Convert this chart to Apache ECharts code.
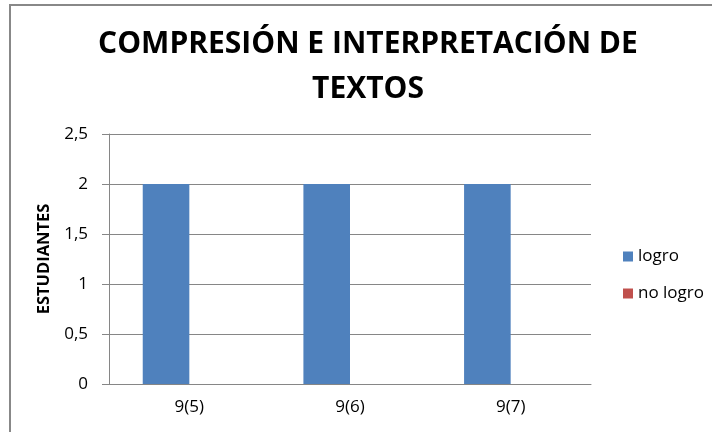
<!DOCTYPE html>
<html>
<head>
<meta charset="utf-8">
<script src="https://cdn.jsdelivr.net/npm/echarts@6/dist/echarts.min.js"></script>
<style>
html,body{margin:0;padding:0;background:#fff;}
#c{width:712px;height:432px;}
</style>
</head>
<body>
<div id="c"></div>
<script>
const categories = ['9(5)', '9(6)', '9(7)'];
const logro = [2, 2, 2];
const noLogro = [0, 0, 0];
const yTicks = ['0', '0,5', '1', '1,5', '2', '2,5'];
const titleText = 'COMPRESIÓN E INTERPRETACIÓN DE\nTEXTOS';
const yName = 'ESTUDIANTES';

const chart = echarts.init(document.getElementById('c'), null, {renderer: 'canvas'});
const font = 'Open Sans';
chart.setOption({
  animation: false,
  backgroundColor: '#fff',
  graphic: [{
    type: 'rect', shape: {x: 10, y: 5, width: 720, height: 440},
    style: {fill: 'none', stroke: '#888', lineWidth: 2}, silent: true
  }],
  title: {
    text: titleText, left: 363, top: 17, textAlign: 'center',
    textStyle: {fontFamily: font, fontWeight: 'bold', fontSize: 30, color: '#000', lineHeight: 45}
  },
  legend: {
    orient: 'vertical', left: 618, top: 240, itemWidth: 10, itemHeight: 10, itemGap: 14,
    icon: 'rect',
    textStyle: {fontFamily: font, fontSize: 17, color: '#000', lineHeight: 23, padding: [0, 0, 0, 0]},
    data: ['logro', 'no logro']
  },
  grid: {left: 109, right: 121, top: 134, bottom: 48, containLabel: false},
  xAxis: {
    type: 'category', data: categories,
    axisLine: {lineStyle: {color: '#868686', width: 1}},
    axisTick: {show: false},
    axisLabel: {fontFamily: font, fontSize: 17, color: '#000', margin: 15}
  },
  yAxis: {
    type: 'value', min: 0, max: 2.5, interval: 0.5,
    name: yName, nameLocation: 'middle', nameGap: 48, nameRotate: 90,
    nameTextStyle: {fontFamily: font, fontWeight: 'bold', fontSize: 16.5, color: '#000'},
    axisLine: {show: true, lineStyle: {color: '#868686', width: 1}},
    axisTick: {show: true, length: 7, inside: false, lineStyle: {color: '#868686'}},
    splitLine: {lineStyle: {color: '#868686', width: 1}},
    axisLabel: {
      fontFamily: font, fontSize: 17, color: '#000', margin: 21,
      formatter: function (v) { return yTicks[Math.round(v / 0.5)]; }
    }
  },
  series: [
    {name: 'logro', type: 'bar', data: logro, barGap: '0%', barCategoryGap: '42%',
     itemStyle: {color: '#4F81BD'}},
    {name: 'no logro', type: 'bar', data: noLogro, barGap: '0%', barCategoryGap: '42%',
     itemStyle: {color: '#C0504D'}}
  ]
});
</script>
</body>
</html>
